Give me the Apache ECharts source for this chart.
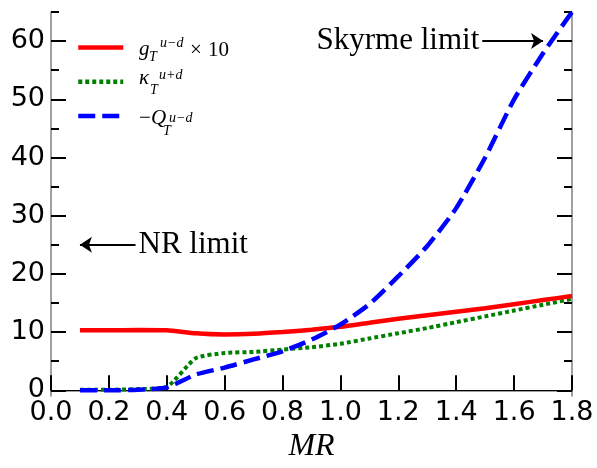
<!DOCTYPE html>
<html>
<head>
<meta charset="utf-8">
<script src="https://cdn.jsdelivr.net/npm/echarts@6/dist/echarts.min.js"></script>
<style>
html,body{margin:0;padding:0;background:#fff;}
#main{width:597px;height:468px;}
</style>
</head>
<body>
<div id="main"></div>
<script>
// MR values
var mr = [0.1,0.2,0.3,0.4,0.5,0.6,0.7,0.8,0.9,1.0,1.1,1.2,1.3,1.4,1.5,1.6,1.7,1.8];
// g_T^{u-d} x 10
var gT = [10.3,10.3,10.35,10.3,9.8,9.6,9.7,10.0,10.4,10.9,11.6,12.3,12.9,13.5,14.1,14.8,15.5,16.2];
// kappa_T^{u+d}
var kT = [0.1,0.1,0.2,0.6,5.5,6.4,6.6,7.0,7.4,8.0,8.9,9.8,10.7,11.7,12.7,13.7,14.7,15.7];
// -Q_T^{u-d}
var qT = [0.0,0.0,0.1,0.5,2.7,3.9,5.3,6.7,8.7,11.3,14.8,19.6,24.8,31.3,40.0,50.0,57.9,65.0];

var xTicks = [0,0.2,0.4,0.6,0.8,1.0,1.2,1.4,1.6,1.8];
var yMajor = [0,10,20,30,40,50,60];
var yMinor = [5,15,25,35,45,55,65];

function pairs(xs, ys){
	var out = [];
	for(var i=0;i<xs.length;i++){ out.push([xs[i], ys[i]]); }
	return out;
}

var serifIt = 'italic 21px "Liberation Serif"';
var serifUp = '21px "Liberation Serif"';
var scriptIt = 'italic 14px "Liberation Serif"';

function t(txt, x, y, font){
	return {type:'text', silent:true, z:100, style:{text:txt, x:x, y:y, font:font, fill:'#000', verticalAlign:'middle', align:'left'}};
}

var myChart = echarts.init(document.getElementById('main'));

var spine = {show:true, lineStyle:{color:'#808080', width:1.5}};
function yAx(pos, vals, len, showLine, showLabel){
	return {
		type:'value', position:pos, min:-1, max:65,
		axisLine: showLine ? spine : {show:false},
		splitLine:{show:false},
		axisTick:{show:true, inside:true, length:len, customValues:vals, lineStyle:{color:'#000', width:2}},
		axisLabel: showLabel ? {show:true, customValues:yMajor, color:'#000', fontSize:27, fontFamily:'DejaVu Sans', margin:6} : {show:false}
	};
}

myChart.setOption({
	animation:false,
	backgroundColor:'#fff',
	grid:{left:51, right:25, top:12, bottom:60},
	legend:{
		show:true, orient:'vertical', left:76, top:42, padding:0,
		itemWidth:45, itemHeight:14, itemGap:23,
		itemStyle:{opacity:0},
		lineStyle:{width:4.5},
		formatter:function(){ return ''; },
		textStyle:{fontSize:12, lineHeight:14},
		data:['g','k','q']
	},
	xAxis:[{
		type:'value', min:0, max:1.8, interval:0.2,
		name:'MR', nameLocation:'middle', nameGap:29,
		nameTextStyle:{fontFamily:'Liberation Serif', fontStyle:'italic', fontSize:32, color:'#000'},
		axisLine:spine,
		splitLine:{show:false},
		axisTick:{show:true, inside:true, length:15, customValues:xTicks, lineStyle:{color:'#000', width:2}},
		axisLabel:{color:'#000', fontSize:27, fontFamily:'DejaVu Sans', margin:3, customValues:xTicks,
			formatter:function(v){ return v.toFixed(1); }}
	},{
		type:'value', position:'top', min:0, max:1.8,
		axisLine:{show:true, lineStyle:{color:'#000', width:1.2}},
		axisTick:{show:false}, axisLabel:{show:false}, splitLine:{show:false}
	}],
	yAxis:[
		yAx('left', yMajor, 15, true, true),
		yAx('left', yMinor, 8, false, false),
		yAx('right', yMajor, 15, true, false),
		yAx('right', yMinor, 8, false, false)
	],
	series:[{
		name:'g', type:'line', data:pairs(mr, gT), symbol:'none', smooth:0.2, z:3,
		lineStyle:{color:'#ff0000', width:4.5}, itemStyle:{color:'#ff0000'},
		markLine:{
			silent:true, symbol:['none','arrow'], symbolSize:12,
			lineStyle:{color:'#000', width:2, type:'solid'},
			label:{show:true, position:'start', color:'#000', fontFamily:'Liberation Serif', fontSize:31, distance:3,
				formatter:function(p){ return p.name; }},
			data:[
				[{name:'Skyrme limit', coord:[1.49,60]}, {coord:[1.70,60]}],
				[{name:'NR limit', coord:[0.292,25]}, {coord:[0.1,25]}]
			]
		}
	},{
		name:'k', type:'line', data:pairs(mr, kT), symbol:'none', smooth:0.2, z:2,
		lineStyle:{color:'#008000', width:4, type:[4,3], cap:'butt'}, itemStyle:{color:'#008000'}
	},{
		name:'q', type:'line', data:pairs(mr, qT), symbol:'none', smooth:0.2, z:4,
		lineStyle:{color:'#0000ff', width:4.5, type:[17,7], cap:'butt'}, itemStyle:{color:'#0000ff'}
	}],
	graphic:[
		// g_T^{u-d} x 10
		t('g', 139, 49.6, serifIt),
		t('T', 149, 57.2, scriptIt),
		t('u\u2212d', 160, 43.5, scriptIt),
		t('\u00d7', 190, 50.3, serifUp),
		t('10', 208, 50.3, serifUp),
		// kappa_T^{u+d}
		t('\u03ba', 139, 78.6, serifIt),
		t('T', 150, 90.5, scriptIt),
		t('u+d', 159, 75.5, scriptIt),
		// -Q_T^{u-d}
		t('\u2212', 139, 118.6, serifUp),
		t('Q', 151, 118.6, serifIt),
		t('T', 163, 131.5, scriptIt),
		t('u\u2212d', 169, 118.5, scriptIt)
	]
});
</script>
</body>
</html>
